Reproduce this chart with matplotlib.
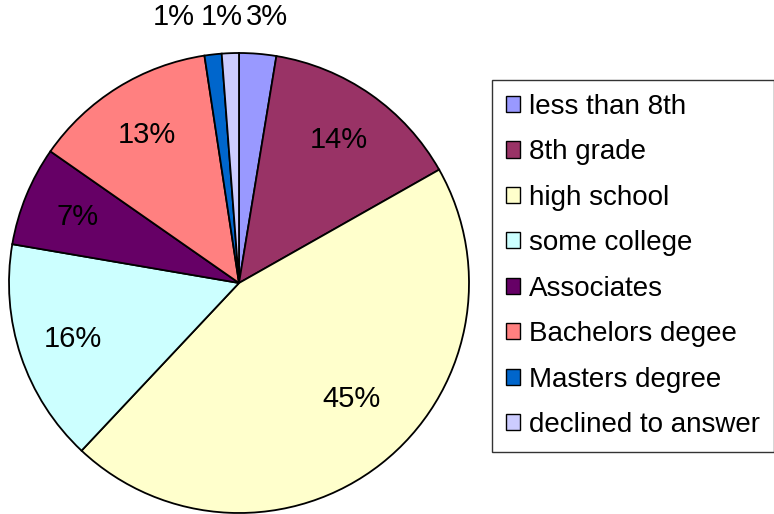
import numpy as np
import matplotlib.pyplot as plt
from matplotlib.patches import Patch

plt.rcParams['font.family'] = ['Liberation Sans', 'DejaVu Sans']

categories = ['less than 8th', '8th grade', 'high school', 'some college',
              'Associates', 'Bachelors degee', 'Masters degree', 'declined to answer']
values = [2.6, 14.2, 45.2, 15.7, 7.0, 12.9, 1.2, 1.2]
pct_labels = ['3%', '14%', '45%', '16%', '7%', '13%', '1%', '1%']
colors = ['#9999FF', '#993366', '#FFFFCC', '#CCFFFF',
          '#660066', '#FF8080', '#0066CC', '#CCCCFF']

fig = plt.figure(figsize=(7.74, 5.14), dpi=100)
ax = fig.add_axes([9 / 774, 1 / 514, 460 / 774, 460 / 514])

wedges, _ = ax.pie(values, colors=colors, startangle=90, counterclock=False,
                   radius=1.0, wedgeprops=dict(edgecolor='black', linewidth=1.3))
ax.set_xlim(-1, 1)
ax.set_ylim(-1, 1)
ax.set_aspect('equal')

# percentage labels: inside for big slices, above the pie for the tiny ones
outside_x = {0: 0.12, 6: -0.285, 7: -0.075}
label_r = {2: 0.70}
for i, w in enumerate(wedges):
    if i in outside_x:
        x, y = outside_x[i], 1.155
    else:
        ang = np.deg2rad((w.theta1 + w.theta2) / 2 + (6 if i == 2 else 0))
        r = label_r.get(i, 0.76)
        x, y = r * np.cos(ang), r * np.sin(ang)
    ax.text(x, y, pct_labels[i], ha='center', va='center', fontsize=21,
            clip_on=False)

handles = [Patch(facecolor=c, edgecolor='black', linewidth=1.0) for c in colors]
leg = fig.legend(handles, categories, loc='upper left',
                 bbox_to_anchor=(492 / 774, 1 - 80 / 514), fontsize=20,
                 frameon=True, fancybox=False, edgecolor='black',
                 handlelength=0.52, handleheight=0.52, handletextpad=0.3,
                 labelspacing=0.7, borderpad=0.5, borderaxespad=0)
leg.get_frame().set_linewidth(1.0)

fig.savefig('out.png', dpi=100)
